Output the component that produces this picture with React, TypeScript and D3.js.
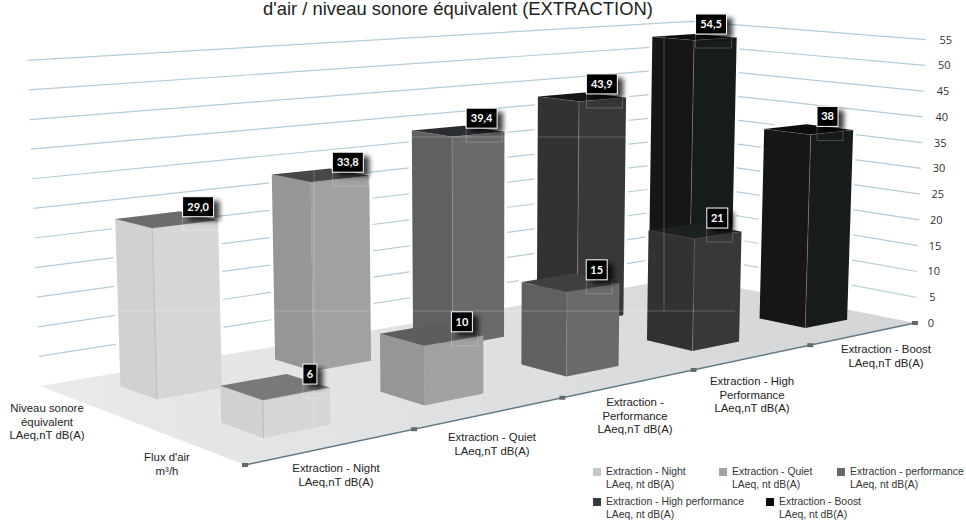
import React from "react";
import * as d3 from "d3";

const categories = ["Night", "Quiet", "Performance", "High Performance", "Boost"];
const rows = ["Niveau sonore", "Flux d'air"];
const niveauValues = [29.0, 33.8, 39.4, 43.9, 54.5];
const fluxValues = [6, 10, 15, 21, 38];
const niveauLabels = ["29,0", "33,8", "39,4", "43,9", "54,5"];
const fluxLabels = ["6", "10", "15", "21", "38"];
const axisTicks = [0, 5, 10, 15, 20, 25, 30, 35, 40, 45, 50, 55];
const titleText = "d'air / niveau sonore équivalent (EXTRACTION)";
const categoryText = [
  ["Extraction - Night", "LAeq,nT dB(A)"],
  ["Extraction - Quiet", "LAeq,nT dB(A)"],
  ["Extraction -", "Performance", "LAeq,nT dB(A)"],
  ["Extraction - High", "Performance", "LAeq,nT dB(A)"],
  ["Extraction - Boost", "LAeq,nT dB(A)"],
];
const rowText = [
  ["Niveau sonore", "équivalent", "LAeq,nT dB(A)"],
  ["Flux d'air", "m³/h"],
];
const legendText = [
  "Extraction - Night",
  "Extraction - Quiet",
  "Extraction - performance",
  "Extraction - High performance",
  "Extraction - Boost",
];
const legendSub = "LAeq, nt dB(A)";

// styles
const faceLeft = ["#cfd1d2", "#969698", "#5f6062", "#303234", "#131517"];
const faceRight = ["#d5d7d7", "#a1a1a3", "#6a6a6c", "#37393b", "#181a1c"];
const topBack = ["#6a6c6d", "#44474a", "#2c2f31", "#151719", "#0b0c0d"];
const topFront = ["#77797a", "#5c5d5f", "#3f3f41", "#1e2021", "#0c0d0e"];
const legendColor = ["#c4c6c7", "#a1a1a3", "#68686a", "#37393b", "#0d0e10"];

// layout
const F = [245, 465], R = [915, 323], L = [40, 386];
const persU = 0.35, persV = 0.16, pxPerUnit = 6.75, heightU = 0.31, heightV = 0.14;
const ax = [R[0] * (1 + persU) - F[0], R[1] * (1 + persU) - F[1]];
const bx = [L[0] * (1 + persV) - F[0], L[1] * (1 + persV) - F[1]];
const hScale = d3.scaleLinear().domain([0, 55]).range([0, 55 * pxPerUnit]);
const project = (u: number, v: number, value = 0, heightFactor = 1): [number, number] => {
  const w = 1 + persU * u + persV * v;
  const x = (F[0] + ax[0] * u + bx[0] * v) / w;
  const y = (F[1] + ax[1] * u + bx[1] * v) / w;
  const h = (hScale(value) * heightFactor) / (1 + heightU * u + heightV * v);
  return [x + ((x - 480) * h) / 11500, y - h];
};
const barFactor = 0.975;
const uScale = d3.scaleBand<string>().domain(categories).range([0.006, 1.01]).paddingInner(0.6).paddingOuter(0.3);
const vScale = d3.scaleBand<string>().domain([rows[1], rows[0]]).range([0.015, 1.015]).paddingInner(0.62).paddingOuter(0.31);
const poly = (pts: [number, number][]) => (d3.line()(pts) as string) + "Z";

const catLabelPos = [
  [336, 472], [492, 441], [635, 406], [752, 385], [886, 353],
];
const rowLabelPos = [[47, 412], [167, 461]];
const legendPos = [
  [593, 468], [719, 468], [837, 468], [593, 498], [766, 498],
];

function corners(ci: number, row: string, value: number) {
  const u0 = uScale(categories[ci])!, u1 = u0 + uScale.bandwidth();
  const v0 = vScale(row)!, v1 = v0 + vScale.bandwidth();
  return {
    a0: project(u0, v0), b0: project(u1, v0), c0: project(u0, v1),
    a: project(u0, v0, value, barFactor), b: project(u1, v0, value, barFactor),
    c: project(u0, v1, value, barFactor), d: project(u1, v1, value, barFactor),
  };
}

function Bar({ ci, row, value }: { ci: number; row: string; value: number }) {
  const { a0, b0, c0, a, b, c, d } = corners(ci, row, value);
  const top = row === rows[0] ? topBack[ci] : topFront[ci];
  return (
    <g>
      <path d={poly([c0, a0, a, c])} fill={faceLeft[ci]} />
      <path d={poly([a0, b0, b, a])} fill={faceRight[ci]} />
      <path d={poly([a, b, d, c])} fill={top} />
      <path d={(d3.line()([a0, a]) as string)} stroke="#b58f84" strokeOpacity={0.45} strokeWidth={1} />
      <path d={(d3.line()([c, a, b]) as string)} fill="none" stroke="#b58f84" strokeOpacity={0.3} strokeWidth={0.8} />
    </g>
  );
}

function ValueLabel({ ci, row, value, text }: { ci: number; row: string; value: number; text: string }) {
  const u1 = uScale(categories[ci])! + uScale.bandwidth();
  const [rx, ry] = project(u1, vScale(row)!, value, barFactor);
  const w = text.length === 1 ? 14 : text.length === 2 ? 21 : 31;
  const cx = rx - 19 - 7 * u1;
  const cy = ry - 13.5;
  return (
    <g>
      <rect x={cx - w / 2} y={cy + 10} width={w + 5} height={14} fill="none" stroke="#fff" strokeOpacity={0.3} strokeWidth={0.7} />
      <rect x={cx - w / 2 + 6} y={cy - 6} width={w} height={20} fill="#000" opacity={0.75} filter="url(#shadow)" />
      <rect x={cx - w / 2} y={cy - 10} width={w} height={20} fill="#000" stroke="#fff" strokeWidth={1} />
      <text x={cx} y={cy + 4} textAnchor="middle" fontFamily="Lato" fontWeight={700} fontSize={11} fill="#fff">{text}</text>
    </g>
  );
}

export default function App() {
  const gridPath = (t: number) => d3.line()([project(0, 1, t), project(1, 1, t), project(1, 0, t)]) as string;
  const sans = "'Liberation Sans'";
  return (
    <svg width={966} height={522} style={{ position: "absolute", left: 0, top: 0, background: "#fff" }}>
      <defs>
        <filter id="soft" x="-5%" y="-5%" width="110%" height="110%"><feGaussianBlur stdDeviation={0.5} /></filter>
        <filter id="gridBlur" x="-5%" y="-20%" width="110%" height="140%"><feGaussianBlur stdDeviation={0.6} /></filter>
        <filter id="shadow" x="-50%" y="-50%" width="200%" height="200%"><feGaussianBlur stdDeviation={2.5} /></filter>
        <linearGradient id="floor" x1="0" x2="1" y1="0" y2="0">
          <stop offset="0" stopColor="#e9eaea" />
          <stop offset="0.5" stopColor="#dfe0e1" />
          <stop offset="1" stopColor="#d3d4d5" />
        </linearGradient>
      </defs>

      <g filter="url(#gridBlur)">
        {axisTicks.filter((t) => t > 0).map((t) => (
          <path key={t} d={gridPath(t)} fill="none" stroke="#b3ccd9" strokeWidth={1.2} />
        ))}
      </g>

      {niveauValues.map((v, i) => {
        const { a0, b0, c0, b, d, c } = corners(i, rows[0], v);
        return <path key={i} d={poly([c0, a0, b0, b, d, c])} fill="#fff" stroke="#fff" strokeWidth={6} filter="url(#gridBlur)" />;
      })}
      {fluxValues.map((v, i) => {
        const { a0, b0, c0, b, d, c } = corners(i, rows[1], v);
        return <path key={i} d={poly([c0, a0, b0, b, d, c])} fill="#fff" stroke="#fff" strokeWidth={6} filter="url(#gridBlur)" />;
      })}

      <path d={poly([project(0, 0), project(1, 0), project(1, 1), project(0, 1)])} fill="url(#floor)" filter="url(#soft)" />

      <g filter="url(#soft)">
        {niveauValues.map((v, i) => <Bar key={"n" + i} ci={i} row={rows[0]} value={v} />)}
        {fluxValues.map((v, i) => <Bar key={"f" + i} ci={i} row={rows[1]} value={v} />)}
      </g>

      <g stroke="#fff" strokeOpacity={0.28} strokeWidth={0.8}>
        <line x1={405} x2={632} y1={137} y2={137} />
        <line x1={115} x2={735} y1={311} y2={311} />
        <line x1={314} x2={314} y1={168} y2={450} />
        <line x1={664} x2={664} y1={30} y2={311} />
      </g>

      <path d={d3.line()([project(0, 0), project(1, 0)]) as string} stroke="#5f7a87" strokeWidth={1.5} filter="url(#soft)" />
      {d3.range(0, 1.01, 0.2).map((u) => {
        const [x, y] = project(u, 0);
        return <rect key={u} x={x - 3} y={y - 2} width={6} height={4} fill="#66686a" />;
      })}

      {niveauValues.map((v, i) => <ValueLabel key={"ln" + i} ci={i} row={rows[0]} value={v} text={niveauLabels[i]} />)}
      {fluxValues.map((v, i) => <ValueLabel key={"lf" + i} ci={i} row={rows[1]} value={v} text={fluxLabels[i]} />)}

      <text x={458} y={15} textAnchor="middle" fontFamily={sans} fontSize={18.4} fill="#222">{titleText}</text>

      {axisTicks.map((t) => {
        const [x, y] = project(1, 0, t);
        return <text key={t} x={x + 16 + (4 * t) / 55} y={y + 4} textAnchor="middle" fontFamily="'Open Sans'" fontSize={11} fill="#333">{t}</text>;
      })}

      {categoryText.map((lines, i) => (
        <text key={i} textAnchor="middle" fontFamily={sans} fontSize={11.4} fill="#222">
          {lines.map((s, j) => <tspan key={j} x={catLabelPos[i][0]} y={catLabelPos[i][1] + j * 13.6}>{s}</tspan>)}
        </text>
      ))}
      {rowText.map((lines, i) => (
        <text key={i} textAnchor="middle" fontFamily={sans} fontSize={11.4} fill="#222">
          {lines.map((s, j) => <tspan key={j} x={rowLabelPos[i][0]} y={rowLabelPos[i][1] + j * 13.6}>{s}</tspan>)}
        </text>
      ))}

      {legendText.map((s, i) => (
        <g key={i}>
          <rect x={legendPos[i][0]} y={legendPos[i][1]} width={8} height={8} fill={legendColor[i]} />
          <text fontFamily={sans} fontSize={10.4} fill="#333">
            <tspan x={legendPos[i][0] + 13} y={legendPos[i][1] + 7}>{s}</tspan>
            <tspan x={legendPos[i][0] + 13} y={legendPos[i][1] + 20}>{legendSub}</tspan>
          </text>
        </g>
      ))}
    </svg>
  );
}
